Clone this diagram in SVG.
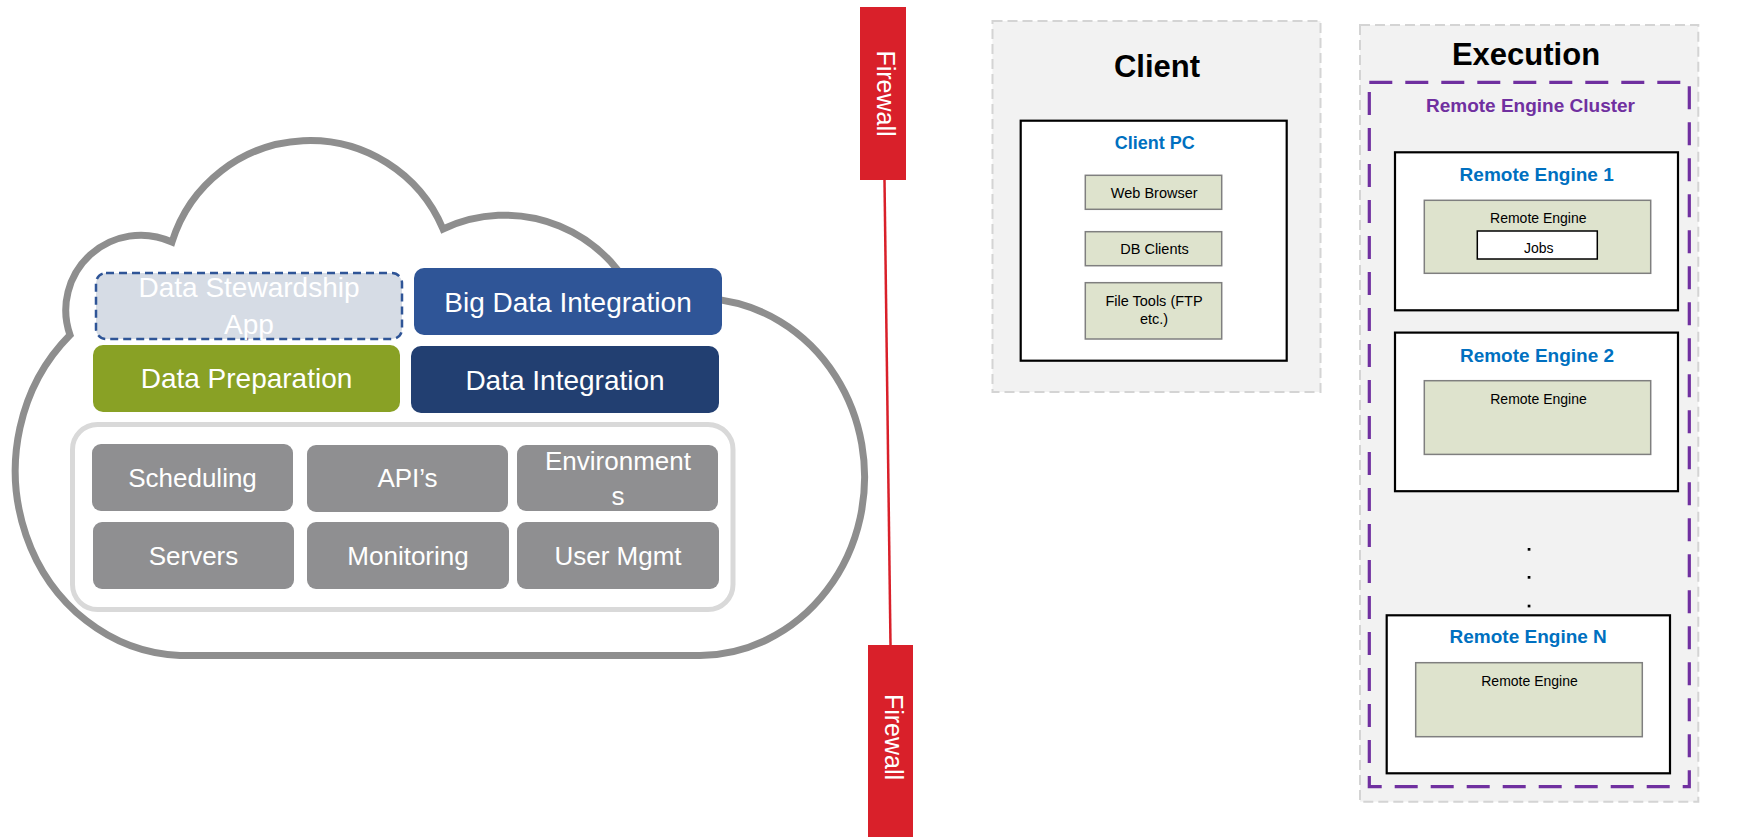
<svg xmlns="http://www.w3.org/2000/svg" width="1749" height="837" viewBox="0 0 1749 837">
<style>
.t{font-family:"Liberation Sans",Arial,sans-serif;text-anchor:middle}
.big{font-size:28px;fill:#fff}
.mid{font-size:26px;fill:#fff}
.svc{fill:#8F8F91}
.fw{fill:#D9202A}
.fwt{font-size:25px;fill:#fff}
.zone{fill:#F2F2F2;stroke:#D4D4D4;stroke-width:2;stroke-dasharray:10 5}
.hdr{font-size:31px;font-weight:bold;fill:#000}
.box{fill:#fff;stroke:#000;stroke-width:2.2}
.ttl{font-size:19px;font-weight:bold;fill:#0070C0}
.grn{fill:#DEE3CD;stroke:#7F7F7F;stroke-width:1.5}
.sm{font-size:14.5px;fill:#000}
</style>
<rect width="1749" height="837" fill="#fff"/>
<g id="cloud">
<path d="M180 655.5 A171 185 0 0 1 70 335 A75 75 0 0 1 172 242 A144.4 144.4 0 0 1 443 229 A144 144 0 0 1 640 310 A166 178.5 0 1 1 700 655.5 Z" fill="#fff" stroke="#8E8E8E" stroke-width="7"/>
</g>
<g id="stewardship">
<rect x="96" y="273" width="306" height="66" rx="10" fill="#D6DCE5" stroke="#2F5597" stroke-width="2.5" stroke-dasharray="8 5"/>
<text class="t big" x="249" y="297">Data Stewardship</text>
<text class="t big" x="249" y="334">App</text>
</g>
<g id="bigdata">
<rect x="414" y="268" width="308" height="67" rx="10" fill="#2F5597"/>
<text class="t big" x="568" y="312">Big Data Integration</text>
</g>
<g id="dataprep">
<rect x="93" y="345" width="307" height="67" rx="10" fill="#89A125"/>
<text class="t big" x="246.5" y="388">Data Preparation</text>
</g>
<g id="dataint">
<rect x="411" y="346" width="308" height="67" rx="10" fill="#223F71"/>
<text class="t big" x="565" y="390">Data Integration</text>
</g>
<g id="platform">
<rect x="72.5" y="424.5" width="660.5" height="185" rx="25" fill="#fff" stroke="#D9D9D9" stroke-width="5"/>
</g>
<g id="scheduling">
<rect class="svc" x="92" y="444" width="201" height="67" rx="9"/>
<text class="t mid" x="192.5" y="487">Scheduling</text>
</g>
<g id="apis">
<rect class="svc" x="307" y="445" width="201" height="67" rx="9"/>
<text class="t mid" x="407.5" y="487">API’s</text>
</g>
<g id="environments">
<rect class="svc" x="517" y="445" width="201" height="66" rx="9"/>
<text class="t mid" x="618" y="470">Environment</text>
<text class="t mid" x="618" y="505">s</text>
</g>
<g id="servers">
<rect class="svc" x="93" y="522" width="201" height="67" rx="9"/>
<text class="t mid" x="193.5" y="565">Servers</text>
</g>
<g id="monitoring">
<rect class="svc" x="307" y="522" width="202" height="67" rx="9"/>
<text class="t mid" x="408" y="565">Monitoring</text>
</g>
<g id="usermgmt">
<rect class="svc" x="517" y="522" width="202" height="67" rx="9"/>
<text class="t mid" x="618" y="565">User Mgmt</text>
</g>
<g id="connectors">
<line x1="884.5" y1="180" x2="890.5" y2="645" stroke="#D9202A" stroke-width="2.5"/>
</g>
<g id="firewall-top">
<rect class="fw" x="860" y="7" width="46" height="173"/>
<text class="t fwt" transform="translate(877,93.5) rotate(90)">Firewall</text>
</g>
<g id="firewall-bottom">
<rect class="fw" x="868" y="645" width="45" height="192"/>
<text class="t fwt" transform="translate(885,737) rotate(90)">Firewall</text>
</g>
<g id="client">
<rect class="zone" x="992.5" y="21" width="328" height="371"/>
<text class="t hdr" x="1157" y="77">Client</text>
</g>
<g id="clientpc">
<rect class="box" x="1020.7" y="120.7" width="266" height="240"/>
<text class="t" x="1154.7" y="149.3" style="font-size:18px;font-weight:bold;fill:#0070C0">Client PC</text>
</g>
<g id="webbrowser">
<rect class="grn" x="1085.3" y="175.3" width="136.4" height="34"/>
<text class="t sm" x="1154.2" y="197.7">Web Browser</text>
</g>
<g id="dbclients">
<rect class="grn" x="1085.3" y="231.7" width="136.4" height="34"/>
<text class="t sm" x="1154.5" y="254.3">DB Clients</text>
</g>
<g id="filetools">
<rect class="grn" x="1085.3" y="282.7" width="136.4" height="56.3"/>
<text class="t sm" x="1154" y="306">File Tools (FTP</text>
<text class="t sm" x="1154" y="324">etc.)</text>
</g>
<g id="execution">
<rect class="zone" x="1360" y="25" width="338.3" height="776.7"/>
<text class="t hdr" x="1526" y="65">Execution</text>
</g>
<g id="cluster">
<rect x="1369.3" y="82.3" width="320" height="704.4" fill="none" stroke="#7030A0" stroke-width="3.2" stroke-dasharray="23 13"/>
<text class="t" x="1530.5" y="111.7" style="font-size:19px;font-weight:bold;fill:#7030A0">Remote Engine Cluster</text>
</g>
<g id="engine1">
<rect class="box" x="1395" y="152.3" width="283" height="158"/>
<text class="t ttl" x="1536.7" y="180.7">Remote Engine 1</text>
<rect class="grn" x="1424.3" y="200.3" width="226.4" height="73"/>
<text class="t sm" x="1538.3" y="222.7" style="font-size:14px">Remote Engine</text>
<rect x="1477.3" y="231" width="120" height="28" fill="#fff" stroke="#000" stroke-width="1.5"/>
<text class="t sm" x="1538.7" y="252.7" style="font-size:14px">Jobs</text>
</g>
<g id="engine2">
<rect class="box" x="1395" y="332.6" width="283" height="158.6"/>
<text class="t ttl" x="1537" y="361.5">Remote Engine 2</text>
<rect class="grn" x="1424.3" y="380.7" width="226.4" height="73.7"/>
<text class="t sm" x="1538.5" y="404" style="font-size:14px">Remote Engine</text>
</g>
<g id="dots">
<rect x="1527.7" y="548" width="2.7" height="2.7" fill="#000"/>
<rect x="1527.7" y="576" width="2.7" height="2.7" fill="#000"/>
<rect x="1527.7" y="604.7" width="2.7" height="2.7" fill="#000"/>
</g>
<g id="engineN">
<rect class="box" x="1386.7" y="615.3" width="283.3" height="158"/>
<text class="t ttl" x="1528.2" y="642.7">Remote Engine N</text>
<rect class="grn" x="1415.7" y="662.7" width="226.6" height="74"/>
<text class="t sm" x="1529.5" y="685.7" style="font-size:14px">Remote Engine</text>
</g>
</svg>
